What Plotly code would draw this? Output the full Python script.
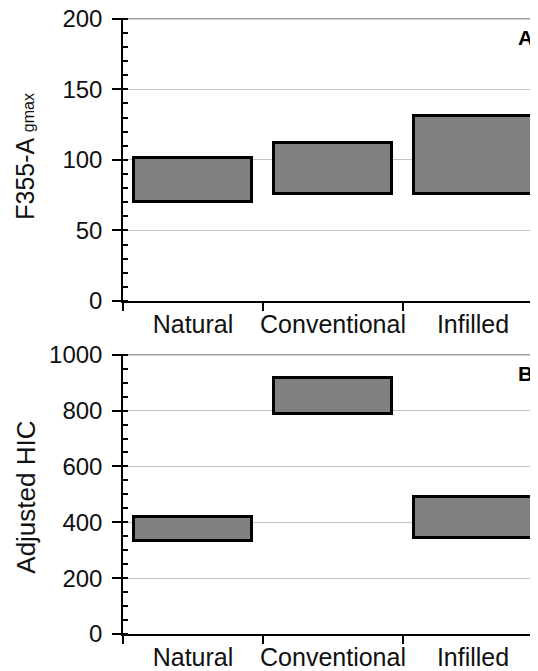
import plotly.graph_objects as go

categories = ["Natural", "Conventional", "Infilled"]
gmax_low = [70, 76, 76]
gmax_high = [101, 112, 131]
hic_low = [332, 788, 345]
hic_high = [420, 915, 492]

FONT = "Liberation Sans"
TXT = "#111111"
fig = go.Figure()

bar_style = dict(color="#808080", line=dict(color="black", width=3))
fig.add_trace(go.Bar(
    x=categories, y=[h - l for h, l in zip(gmax_high, gmax_low)], base=gmax_low,
    width=0.84, marker=bar_style, xaxis="x", yaxis="y", showlegend=False))
fig.add_trace(go.Bar(
    x=categories, y=[h - l for h, l in zip(hic_high, hic_low)], base=hic_low,
    width=0.84, marker=bar_style, xaxis="x2", yaxis="y2", showlegend=False))

xcommon = dict(type="category", range=[-0.5, 2.464], tickson="boundaries",
               ticks="outside", ticklen=8, tickwidth=1.5, tickcolor="black",
               showline=True, linecolor="black", linewidth=1.5, showgrid=False,
               tickangle=0, automargin=False,
               tickfont=dict(family=FONT, size=25, color=TXT), fixedrange=True)
ycommon = dict(ticks="outside", ticklen=9, tickwidth=1.5, tickcolor="black",
               showline=True, linecolor="black", linewidth=1.5,
               showgrid=True, gridcolor="#c4c4c4", gridwidth=1, zeroline=False,
               tickfont=dict(family=FONT, size=24, color=TXT), automargin=False,
               ticklabelstandoff=5, ticklabeloverflow="allow", fixedrange=True)

fig.update_layout(
    width=530, height=663,
    margin=dict(l=115, r=0, t=10, b=37, autoexpand=False),
    plot_bgcolor="white", paper_bgcolor="white",
    bargap=0,
    xaxis=dict(**xcommon, domain=[0, 1], anchor="y"),
    xaxis2=dict(**xcommon, domain=[0, 1], anchor="y2"),
    yaxis=dict(**ycommon, domain=[0.5406, 1], anchor="x", range=[0, 200.5],
               tickvals=[0, 50, 100, 150, 200],
               minor=dict(ticks="inside", dtick=10, ticklen=5, tickwidth=1.5,
                          tickcolor="black", showgrid=False)),
    yaxis2=dict(**ycommon, domain=[0, 0.4545], anchor="x2", range=[0, 1002.5],
                tickvals=[0, 200, 400, 600, 800, 1000],
                minor=dict(ticks="inside", dtick=50, ticklen=5, tickwidth=1.5,
                           tickcolor="black", showgrid=False)),
    shapes=[
        dict(type="line", xref="x domain", yref="y domain", x0=0, x1=1,
             y0=0.9975, y1=0.9975, layer="below",
             line=dict(color="#a0a0a0", width=1.5)),
        dict(type="line", xref="x2 domain", yref="y2 domain", x0=0, x1=1,
             y0=0.9975, y1=0.9975, layer="below",
             line=dict(color="#a0a0a0", width=1.5)),
    ],
    annotations=[
        dict(text="F355-A <span style='font-size:16px'>gmax</span>", x=-0.236, y=0.51,
             xref="paper", yref="y domain",
             textangle=-90, xanchor="center", yanchor="middle", showarrow=False,
             font=dict(family=FONT, size=25, color=TXT)),
        dict(text="Adjusted HIC", x=-0.234, y=0.49, xref="paper", yref="y2 domain",
             textangle=-90, xanchor="center", yanchor="middle", showarrow=False,
             font=dict(family=FONT, size=26, color=TXT)),
        dict(text="<b>A</b>", x=1, y=0.93, xref="paper", yref="y domain",
             xanchor="right", yanchor="middle", showarrow=False, xshift=-3,
             font=dict(family=FONT, size=21, color="black")),
        dict(text="<b>B</b>", x=1, y=0.93, xref="paper", yref="y2 domain",
             xanchor="right", yanchor="middle", showarrow=False, xshift=-3,
             font=dict(family=FONT, size=21, color="black")),
    ],
)

fig.write_html("out.html")
